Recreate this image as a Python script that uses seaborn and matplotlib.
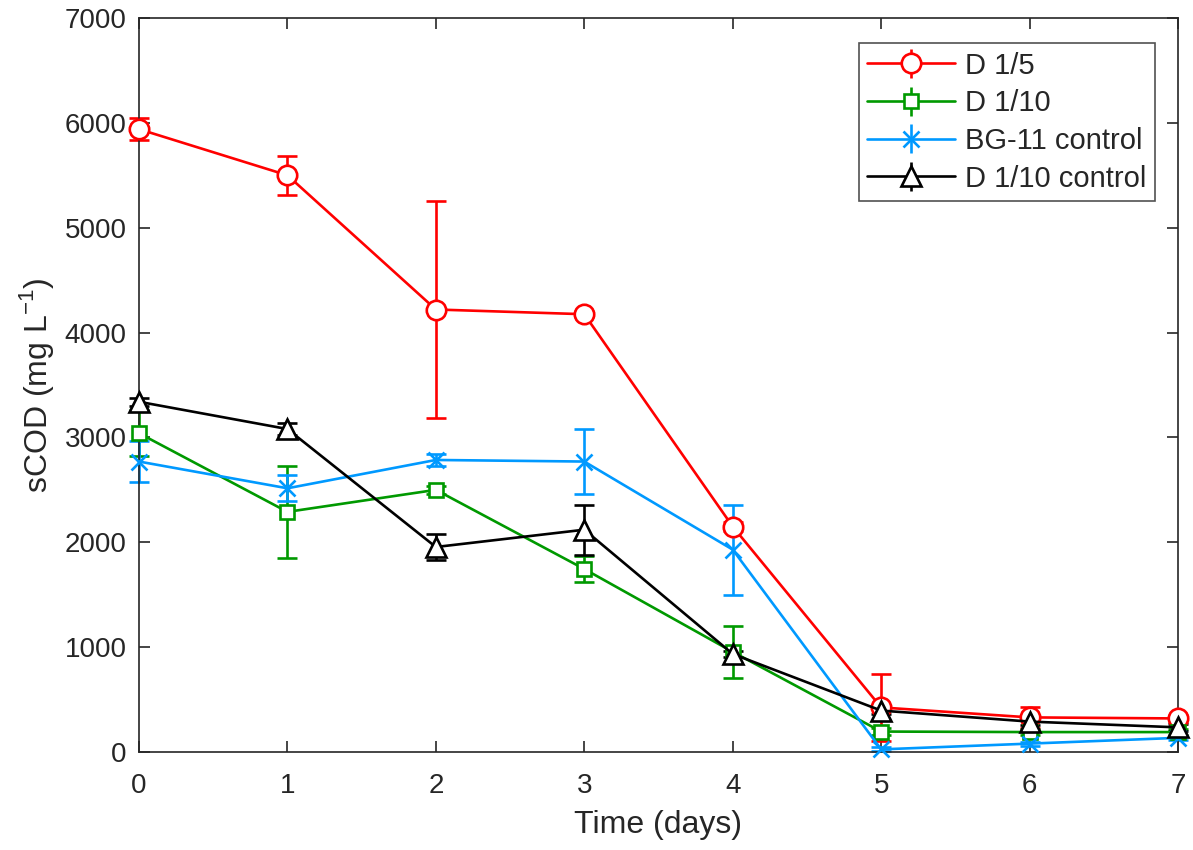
import matplotlib
matplotlib.use("Agg")
import matplotlib.pyplot as plt
import seaborn as sns
import pandas as pd
import numpy as np

days = [0, 1, 2, 3, 4, 5, 6, 7]

d15 = [5940, 5500, 4220, 4175, 2150, 425, 330, 320]
d15_err = [105, 185, 1030, 30, 40, 320, 100, 30]

d110 = [3040, 2290, 2500, 1745, 955, 195, 190, 190]
d110_err = [220, 440, 40, 120, 245, 30, 30, 30]

bg11 = [2770, 2515, 2785, 2770, 1930, 25, 80, 135]
bg11_err = [195, 125, 60, 310, 430, 20, 20, 20]

d110c = [3340, 3080, 1955, 2120, 935, 395, 290, 235]
d110c_err = [40, 60, 120, 240, 30, 30, 30, 30]

labels = ["D 1/5", "D 1/10", "BG-11 control", "D 1/10 control"]
colors = ["#ff0000", "#009900", "#0099ff", "#000000"]
markers = ["o", "s", "x", "^"]
msizes = [14, 10, 11, 15]

sns.set_theme(style="white")
plt.rcParams['font.family'] = ['Liberation Sans', 'DejaVu Sans']

fig = plt.figure(figsize=(11.93, 8.5), dpi=100)
ax = fig.add_axes([139/1193, 1 - 752/850, (1178-139)/1193, (752-18)/850])

series = [(d15, d15_err), (d110, d110_err), (bg11, bg11_err), (d110c, d110c_err)]
handles = []
for (vals, errs), lab, col, mk, ms in zip(series, labels, colors, markers, msizes):
    df = pd.DataFrame({"day": days, "val": vals})
    eb = ax.errorbar(days, vals, yerr=errs, fmt="none", ecolor=col, elinewidth=1.9,
                     capsize=7, capthick=1.9, zorder=2)
    for ch in eb.get_children():
        ch.set_clip_on(False)
    sns.lineplot(data=df, x="day", y="val", ax=ax, color=col, marker=mk,
                 markersize=ms, markerfacecolor="white" if mk != "x" else col,
                 markeredgecolor=col, markeredgewidth=1.9, linewidth=1.9,
                 zorder=3, legend=False, clip_on=False)
    h = ax.errorbar([], [], yerr=[], color=col, marker=mk, markersize=ms,
                    markerfacecolor="white" if mk != "x" else col,
                    markeredgecolor=col, markeredgewidth=1.9, linewidth=1.9,
                    capsize=7, capthick=1.9, elinewidth=1.9, label=lab)
    handles.append(h)

ax.set_xlim(0, 7)
ax.set_ylim(0, 7000)
ax.set_xticks(range(0, 8))
ax.set_yticks(range(0, 7001, 1000))
ax.tick_params(direction="in", length=8, width=1.2, colors="#262626",
               labelsize=20, top=True, right=True, bottom=True, left=True)
ax.tick_params(axis="x", pad=15)
ax.tick_params(axis="y", pad=9)
for sp in ax.spines.values():
    sp.set_color("#262626")
    sp.set_linewidth(1.2)
ax.set_xlabel("Time (days)", fontsize=23, color="#262626", labelpad=8)
ax.set_ylabel(r"sCOD (mg L$^{\mathregular{-1}}$)", fontsize=23, color="#262626", labelpad=6)

leg = ax.legend(handles=handles, labels=labels, loc="upper right",
                bbox_to_anchor=(0.978, 0.966), fontsize=21, frameon=True,
                fancybox=False, edgecolor="#262626", handlelength=3.0,
                labelspacing=0.33, borderpad=0.3, handletextpad=0.35,
                borderaxespad=0.0)
leg.get_frame().set_linewidth(1.2)

fig.savefig("out.png", dpi=100)
